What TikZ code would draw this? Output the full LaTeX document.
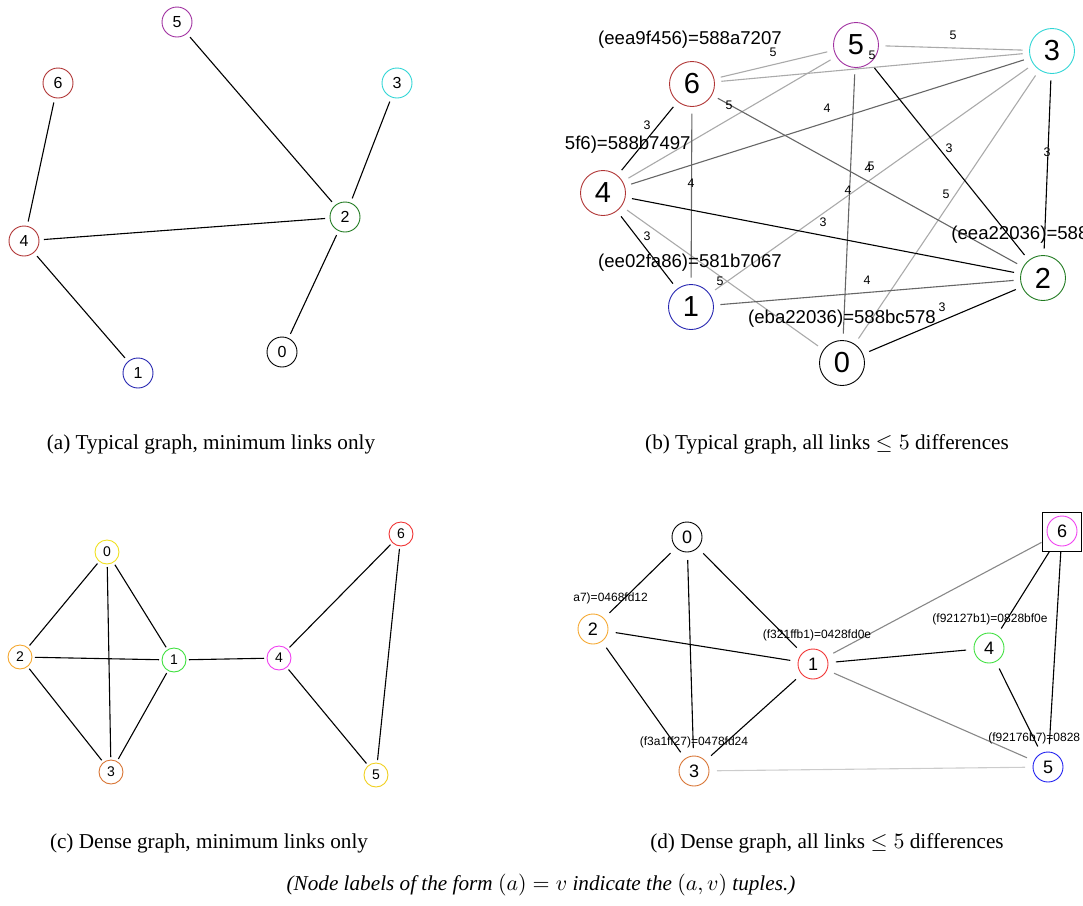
\documentclass[tikz,border=0pt]{standalone}
\usepackage{fontspec}
\setmainfont{Liberation Serif}
\newfontfamily\arialf{Liberation Sans}
\definecolor{purA}{HTML}{A030A0}
\definecolor{redA}{HTML}{B03535}
\definecolor{cyaA}{HTML}{30D5D5}
\definecolor{grnA}{HTML}{207A20}
\definecolor{bluA}{HTML}{2525B0}
\definecolor{yelC}{HTML}{F0E020}
\definecolor{oraC}{HTML}{F5A830}
\definecolor{grnC}{HTML}{40E040}
\definecolor{broC}{HTML}{D87535}
\definecolor{magC}{HTML}{F040F0}
\definecolor{redC}{HTML}{F03535}
\definecolor{golC}{HTML}{F0D020}
\definecolor{bluD}{HTML}{2020F0}
\definecolor{dgr}{HTML}{666666}
\definecolor{lgr}{HTML}{AAAAAA}
\definecolor{mgr}{HTML}{888888}
\definecolor{vlgr}{HTML}{CCCCCC}
\begin{document}
\begin{tikzpicture}[x=0.5pt,y=-0.5pt,
  nA/.style={circle,draw,line width=0.45pt,minimum size=15pt,inner sep=0pt,outer sep=2.5pt,font=\arialf\fontsize{8}{9}\selectfont},
  nB/.style={circle,draw,line width=0.45pt,minimum size=22.5pt,inner sep=0pt,outer sep=3.5pt,font=\arialf\fontsize{14.5}{16}\selectfont},
  nC/.style={circle,draw,line width=0.45pt,minimum size=12pt,inner sep=0pt,outer sep=1.5pt,font=\arialf\fontsize{7}{8}\selectfont},
  nD/.style={circle,draw,line width=0.45pt,minimum size=15pt,inner sep=0pt,outer sep=4pt,font=\arialf\fontsize{9}{10}\selectfont},
  ek/.style={line width=0.55pt,black},
  e4/.style={line width=0.55pt,dgr},
  e5/.style={line width=0.55pt,lgr},
  wlab/.style={inner sep=0pt,font=\arialf\fontsize{6.2}{7}\selectfont},
  tupB/.style={inner sep=0pt,font=\arialf\fontsize{9.3}{10}\selectfont},
  tupD/.style={inner sep=0pt,font=\arialf\fontsize{6}{7}\selectfont},
  capt/.style={inner sep=0pt,font=\fontsize{10.6}{12}\selectfont}]
\useasboundingbox (0,0) rectangle (1083,906);

% ---------- panel (a)
\node[nA,draw=purA] (a5) at (177,22) {5};
\node[nA,draw=redA] (a6) at (58,83) {6};
\node[nA,draw=cyaA] (a3) at (397,83) {3};
\node[nA,draw=grnA] (a2) at (345,217) {2};
\node[nA,draw=redA] (a4) at (24,241) {4};
\node[nA,draw=black] (a0) at (282,352) {0};
\node[nA,draw=bluA] (a1) at (138,373) {1};
\draw[ek] (a6) -- (a4);
\draw[ek] (a5) -- (a2);
\draw[ek] (a3) -- (a2);
\draw[ek] (a4) -- (a2);
\draw[ek] (a4) -- (a1);
\draw[ek] (a2) -- (a0);
\node[capt] (capa) at (211,444) {(a) Typical graph, minimum links only};

% ---------- panel (b)
\begin{scope}
\clip (565,0) rectangle (1083,420);
\node[nB,draw=redA] (b6) at (692,84) {6};
\node[nB,draw=purA] (b5) at (856,45) {5};
\node[nB,draw=cyaA] (b3) at (1052,51) {3};
\node[nB,draw=redA] (b4) at (603,193) {4};
\node[nB,draw=bluA] (b1) at (691,307) {1};
\node[nB,draw=grnA] (b2) at (1043,278) {2};
\node[nB,draw=black] (b0) at (842,363) {0};
% weight 5
\draw[e5] (b6) -- (b5);
\draw[e5] (b6) -- (b3);
\draw[e5] (b5) -- (b4);
\draw[e5] (b5) -- (b3);
\draw[e5] (b4) -- (b0);
\draw[e5] (b3) -- (b1);
\draw[e5] (b3) -- (b0);
% weight 4
\draw[e4] (b6) -- (b1);
\draw[e4] (b6) -- (b2);
\draw[e4] (b5) -- (b0);
\draw[e4] (b4) -- (b3);
\draw[e4] (b1) -- (b2);
% weight 3
\draw[ek] (b6) -- (b4);
\draw[ek] (b5) -- (b2);
\draw[ek] (b4) -- (b2);
\draw[ek] (b4) -- (b1);
\draw[ek] (b3) -- (b2);
\draw[ek] (b2) -- (b0);
% weight labels
\node[wlab] (w1) at (647,125) {3};
\node[wlab] (w2) at (773,52) {5};
\node[wlab] (w3) at (729,105) {5};
\node[wlab] (w4) at (827,108) {4};
\node[wlab] (w5) at (691,183) {4};
\node[wlab] (w6) at (949,148) {3};
\node[wlab] (w7) at (953,35) {5};
\node[wlab] (w8) at (872,55) {5};
\node[wlab] (w9) at (848,190) {4};
\node[wlab] (w10) at (868,168) {4};
\node[wlab] (w11) at (871,166) {5};
\node[wlab] (w12) at (1047,152) {3};
\node[wlab] (w13) at (823,222) {3};
\node[wlab] (w14) at (946,194) {5};
\node[wlab] (w15) at (647,236) {3};
\node[wlab] (w16) at (720,281) {5};
\node[wlab] (w17) at (867,280) {4};
\node[wlab] (w18) at (942,307) {3};
% tuple labels
\node[tupB] (t6) at (690,40) {(eea9f456)=588a7207};
\node[tupB,anchor=east] (t4) at (691,145) {5f6)=588b7497};
\node[tupB] (t1) at (690,263) {(ee02fa86)=581b7067};
\node[tupB] (t0) at (842,319) {(eba22036)=588bc578};
\node[tupB,anchor=west] (t2) at (951,235) {(eea22036)=588};
\end{scope}
\node[capt] (capb) at (827,444) {(b) Typical graph, all links $\leq 5$ differences};

% ---------- panel (c)
\node[nC,draw=yelC] (c0) at (107,552) {0};
\node[nC,draw=oraC] (c2) at (20,657) {2};
\node[nC,draw=grnC] (c1) at (174,660) {1};
\node[nC,draw=broC] (c3) at (111,772) {3};
\node[nC,draw=magC] (c4) at (279,658) {4};
\node[nC,draw=redC] (c6) at (401,534) {6};
\node[nC,draw=golC] (c5) at (376,775) {5};
\draw[ek] (c0) -- (c2);
\draw[ek] (c0) -- (c3);
\draw[ek] (c0) -- (c1);
\draw[ek] (c2) -- (c1);
\draw[ek] (c2) -- (c3);
\draw[ek] (c1) -- (c3);
\draw[ek] (c1) -- (c4);
\draw[ek] (c4) -- (c6);
\draw[ek] (c4) -- (c5);
\draw[ek] (c6) -- (c5);
\node[capt] (capc) at (209,843) {(c) Dense graph, minimum links only};

% ---------- panel (d)
\node[nD,draw=black] (d0) at (687,537) {0};
\node[nD,draw=oraC] (d2) at (593,629) {2};
\node[nD,draw=redC] (d1) at (813,664) {1};
\node[nD,draw=broC] (d3) at (694,771) {3};
\node[nD,draw=grnC] (d4) at (989,648) {4};
\node[nD,draw=bluD] (d5) at (1048,767) {5};
\node[draw=black,line width=0.5pt,minimum size=19.5pt,inner sep=0pt,outer sep=0.5pt] (d6box) at (1062,531.5) {};
\node[nD,draw=magC] (d6) at (1062,531) {6};
\draw[line width=0.55pt,vlgr] (d3) -- (d5);
\draw[line width=0.55pt,mgr] (d1) -- (d6box);
\draw[line width=0.55pt,mgr] (d1) -- (d5);
\draw[ek] (d0) -- (d2);
\draw[ek] (d0) -- (d3);
\draw[ek] (d0) -- (d1);
\draw[ek] (d2) -- (d1);
\draw[ek] (d2) -- (d3);
\draw[ek] (d1) -- (d3);
\draw[ek] (d1) -- (d4);
\draw[ek] (d6box) -- (d4);
\draw[ek] (d6box) -- (d5);
\draw[ek] (d4) -- (d5);
\node[tupD,anchor=west] (u2) at (573,598) {a7)=0468fd12};
\node[tupD] (u1) at (817,635) {(f321ffb1)=0428fd0e};
\node[tupD] (u4) at (990,619) {(f92127b1)=0828bf0e};
\node[tupD] (u3) at (694,742) {(f3a1ff27)=0478fd24};
\node[tupD,anchor=west] (u5) at (988,738) {(f92176b7)=0828};
\node[capt] (capd) at (827,843) {(d) Dense graph, all links $\leq 5$ differences};

% ---------- note
\node[capt,font=\itshape\fontsize{10.6}{12}\selectfont] (note) at (541,885) {(Node labels of the form $(a) = v$ indicate the $(a, v)$ tuples.)};
\end{tikzpicture}
\end{document}
